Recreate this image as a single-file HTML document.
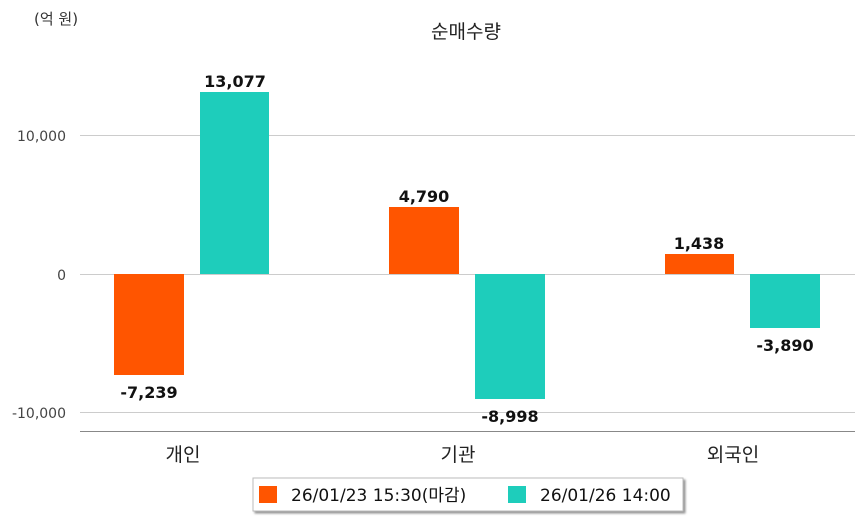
<!DOCTYPE html>
<html><head><meta charset="utf-8"><style>
body{margin:0;background:#fff;}
svg text{font-family:"DejaVu Sans","Noto Sans CJK KR",sans-serif;}
</style></head><body>
<svg width="863" height="520" xmlns="http://www.w3.org/2000/svg">
<defs><filter id="s" x="-5%" y="-20%" width="110%" height="150%"><feDropShadow dx="2" dy="2" stdDeviation="1" flood-color="#777" flood-opacity="0.8"/></filter></defs>
<text x="34" y="24" font-size="15" fill="#333">(억 원)</text>
<text x="466" y="38" font-size="19" fill="#222" text-anchor="middle">순매수량</text>
<g stroke="#ccc" stroke-width="1">
<line x1="80" y1="135.5" x2="855" y2="135.5"/>
<line x1="80" y1="274.5" x2="855" y2="274.5"/>
<line x1="80" y1="412.5" x2="855" y2="412.5"/>
</g>
<line x1="80" y1="431.5" x2="855" y2="431.5" stroke="#888"/>
<g font-size="14" fill="#444" text-anchor="end">
<text x="66" y="141">10,000</text>
<text x="66" y="280">0</text>
<text x="66" y="418">-10,000</text>
</g>
<g fill="#ff5500">
<rect x="114" y="274" width="70" height="101"/>
<rect x="389" y="207" width="70" height="67"/>
<rect x="665" y="254" width="69" height="20"/>
</g>
<g fill="#1ecdbb">
<rect x="200" y="92" width="69" height="182"/>
<rect x="475" y="274" width="70" height="125"/>
<rect x="750" y="274" width="70" height="54"/>
</g>
<g font-size="16" fill="#111" text-anchor="middle" font-weight="bold">
<text x="149" y="398">-7,239</text>
<text x="235" y="87">13,077</text>
<text x="424" y="202">4,790</text>
<text x="510" y="422">-8,998</text>
<text x="699" y="249">1,438</text>
<text x="785" y="351">-3,890</text>
</g>
<g font-size="19" fill="#222" text-anchor="middle">
<text x="183" y="461">개인</text>
<text x="458" y="461">기관</text>
<text x="733" y="461">외국인</text>
</g>
<rect x="253" y="478" width="430" height="33" fill="#fff" stroke="#bbb" filter="url(#s)"/>
<rect x="259" y="486" width="18" height="17" fill="#ff5500"/>
<text x="291" y="501" font-size="17" fill="#111">26/01/23 15:30(마감)</text>
<rect x="508" y="486" width="18" height="17" fill="#1ecdbb"/>
<text x="540" y="501" font-size="17" fill="#111">26/01/26 14:00</text>
</svg>
</body></html>
